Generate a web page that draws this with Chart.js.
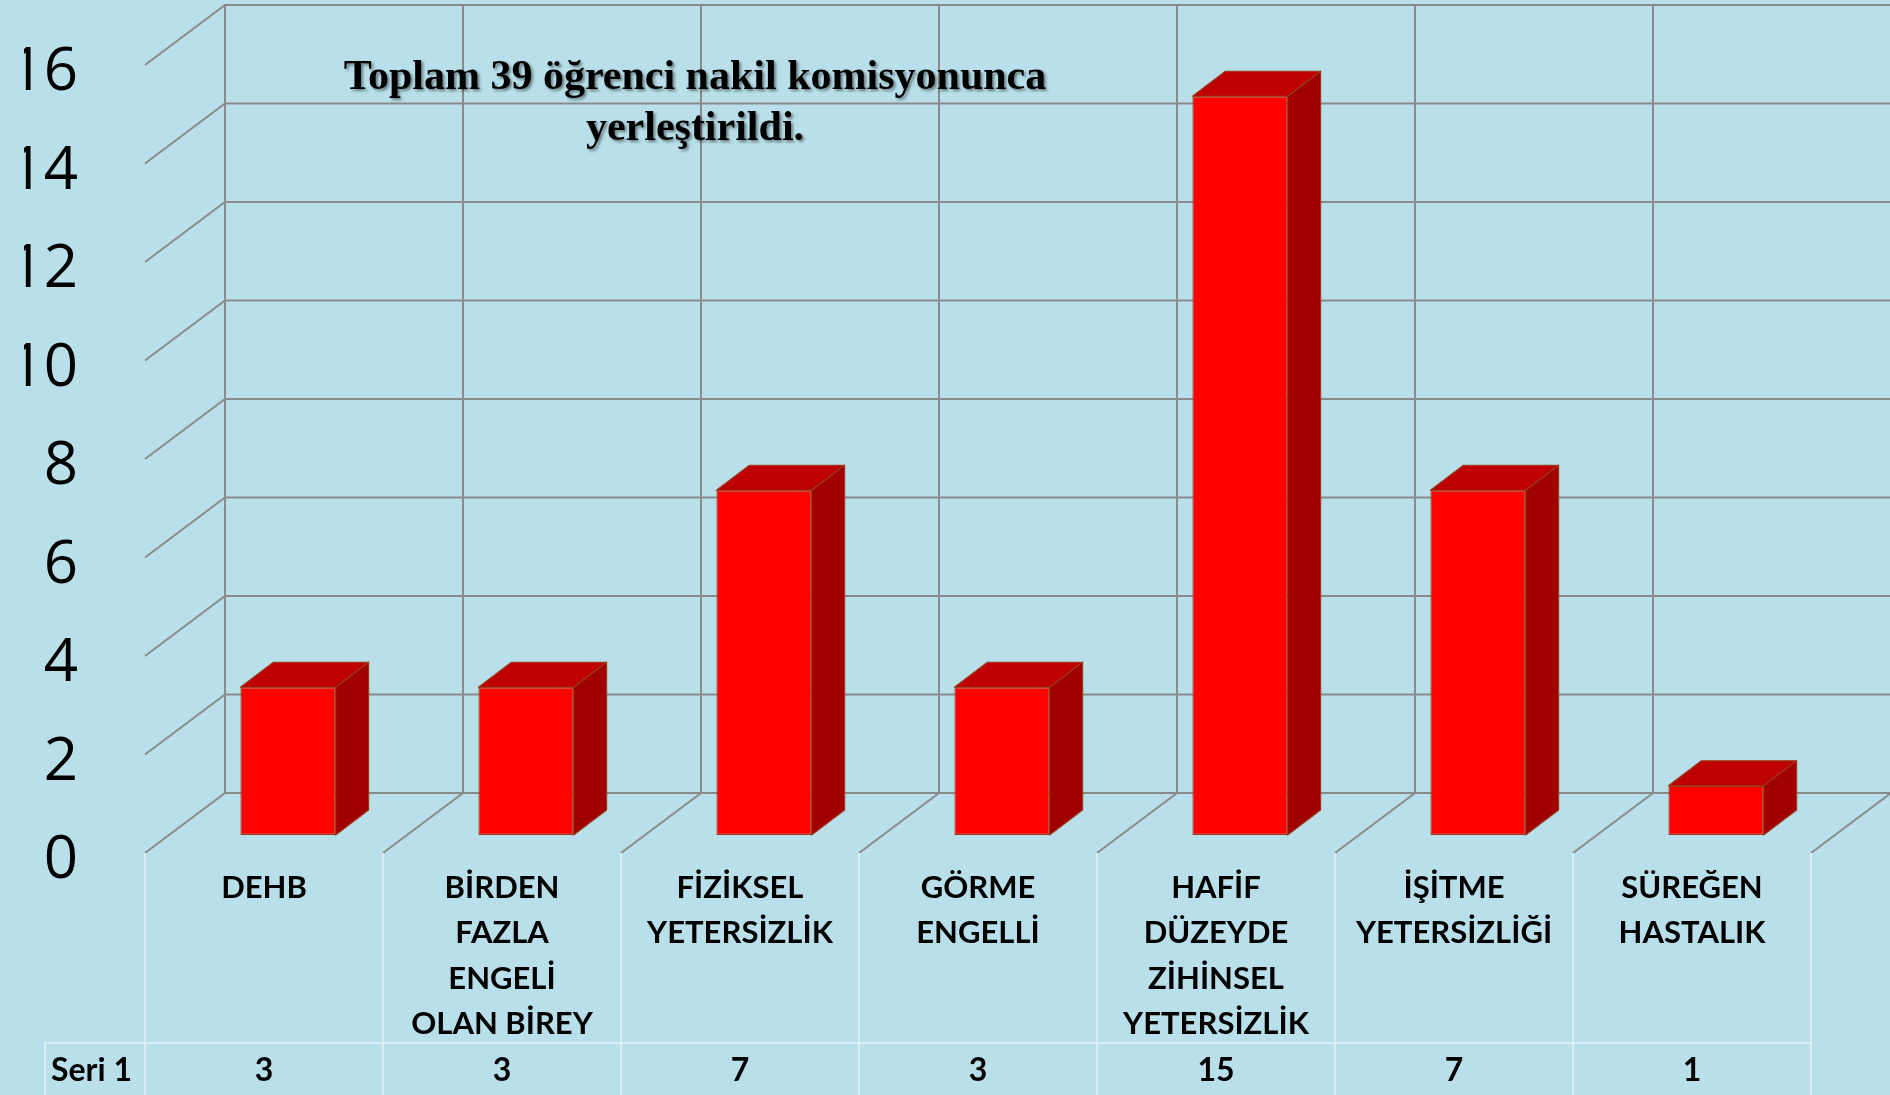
<!DOCTYPE html>
<html>
<head>
<meta charset="utf-8">
<script src="https://cdn.jsdelivr.net/npm/chart.js@4.4.1/dist/chart.umd.min.js"></script>
<style>
  html, body { margin: 0; padding: 0; background: #b9e0ea; }
  canvas { display: block; }
</style>
</head>
<body>
<canvas id="chart" width="1890" height="1095"></canvas>
<script>
const categories = [
  'DEHB',
  ['BİRDEN', 'FAZLA', 'ENGELİ', 'OLAN BİREY'],
  ['FİZİKSEL', 'YETERSİZLİK'],
  ['GÖRME', 'ENGELLİ'],
  ['HAFİF', 'DÜZEYDE', 'ZİHİNSEL', 'YETERSİZLİK'],
  ['İŞİTME', 'YETERSİZLİĞİ'],
  ['SÜREĞEN', 'HASTALIK']
];
const seriesName = 'Seri 1';
const series1 = [3, 3, 7, 3, 15, 7, 1];
const yTicks = [0, 2, 4, 6, 8, 10, 12, 14, 16];
const titleLines = ['Toplam 39 öğrenci nakil komisyonunca', 'yerleştirildi.'];

// offsets of the other depth planes, measured from the bar front plane
const FRONT = { dx: -24, dy: 18 };
const BACK = { dx: 56, dy: -42 };
const BAR_DEPTH = { dx: 33, dy: -25 };

const GRID_COLOR = '#8a8a8a';
const TABLE_LINE = '#dcedf2';

function boundaries(chart) {
  const x = chart.scales.x;
  const n = categories.length;
  const step = (x.getPixelForValue(n - 1) - x.getPixelForValue(0)) / (n - 1);
  const out = [];
  for (let k = 0; k <= n; k++) out.push(x.getPixelForValue(0) - step / 2 + k * step);
  return out;
}

const scene3d = {
  id: 'scene3d',
  beforeDatasetsDraw(chart) {
    const { ctx, scales: { y } } = chart;
    const a = chart.chartArea;
    const bx = boundaries(chart);
    const y0 = y.getPixelForValue(0);
    const yTop = y.getPixelForValue(16);
    ctx.save();
    ctx.strokeStyle = GRID_COLOR;
    ctx.lineWidth = 2;
    ctx.beginPath();
    yTicks.forEach(v => {
      const py = y.getPixelForValue(v);
      ctx.moveTo(a.left + FRONT.dx, py + FRONT.dy);
      ctx.lineTo(a.left + BACK.dx, py + BACK.dy);
      ctx.lineTo(chart.width + 5, py + BACK.dy);
    });
    bx.forEach(b => {
      ctx.moveTo(b + BACK.dx, yTop + BACK.dy);
      ctx.lineTo(b + BACK.dx, y0 + BACK.dy);
      ctx.lineTo(b + FRONT.dx, y0 + FRONT.dy);
    });
    ctx.stroke();
    ctx.restore();
  },
  afterDatasetsDraw(chart) {
    const { ctx } = chart;
    ctx.save();
    ctx.lineWidth = 1.2;
    ctx.strokeStyle = '#9a3a16';
    ctx.lineJoin = 'round';
    chart.getDatasetMeta(0).data.forEach(bar => {
      const x0 = bar.x - bar.width / 2, x1 = bar.x + bar.width / 2;
      const yt = bar.y, yb = bar.base;
      const dx = BAR_DEPTH.dx, dy = BAR_DEPTH.dy;
      // top face
      ctx.beginPath();
      ctx.moveTo(x0, yt); ctx.lineTo(x1, yt);
      ctx.lineTo(x1 + dx, yt + dy); ctx.lineTo(x0 + dx, yt + dy);
      ctx.closePath();
      ctx.fillStyle = '#bf0000';
      ctx.fill(); ctx.stroke();
      // side face
      ctx.beginPath();
      ctx.moveTo(x1, yt); ctx.lineTo(x1 + dx, yt + dy);
      ctx.lineTo(x1 + dx, yb + dy); ctx.lineTo(x1, yb);
      ctx.closePath();
      ctx.fillStyle = '#a00000';
      ctx.fill(); ctx.stroke();
    });
    ctx.restore();
  },
  afterDraw(chart) {
    const { ctx, scales: { x, y } } = chart;
    const bx = boundaries(chart).map(b => b + FRONT.dx);
    const yFloor = y.getPixelForValue(0) + FRONT.dy;
    const rowTop = 1043;
    const rowMid = 1071;
    ctx.save();
    // data table lines
    ctx.strokeStyle = TABLE_LINE;
    ctx.lineWidth = 2;
    ctx.beginPath();
    bx.forEach(b => { ctx.moveTo(b, yFloor); ctx.lineTo(b, chart.height); });
    ctx.moveTo(45, chart.height); ctx.lineTo(45, rowTop); ctx.lineTo(bx[bx.length - 1], rowTop);
    ctx.stroke();
    // data table texts
    ctx.fillStyle = '#000';
    ctx.font = 'bold 32px Lato';
    ctx.textBaseline = 'middle';
    ctx.textAlign = 'left';
    ctx.fillText(seriesName, 51, rowMid);
    ctx.textAlign = 'center';
    series1.forEach((v, i) => ctx.fillText(String(v), x.getPixelForValue(i) + FRONT.dx, rowMid));
    // title
    ctx.font = 'bold 42px "Liberation Serif"';
    ctx.shadowColor = 'rgba(0,0,0,0.45)';
    ctx.shadowOffsetX = 2;
    ctx.shadowOffsetY = 2;
    ctx.shadowBlur = 3;
    ctx.fillText(titleLines[0], 695, 78);
    ctx.fillText(titleLines[1], 695, 129);
    ctx.restore();
  }
};

new Chart(document.getElementById('chart'), {
  type: 'bar',
  data: {
    labels: categories,
    datasets: [{
      label: seriesName,
      data: series1,
      backgroundColor: '#ff0000',
      borderColor: '#9a3a16',
      borderWidth: 1.2,
      borderSkipped: false,
      categoryPercentage: 1,
      barPercentage: 0.4
    }]
  },
  options: {
    responsive: false,
    animation: false,
    devicePixelRatio: 1,
    layout: { padding: { left: 24, right: 55, top: 47, bottom: 0 } },
    plugins: {
      legend: { display: false },
      tooltip: { enabled: false }
    },
    scales: {
      x: {
        grid: { display: false, drawTicks: false },
        border: { display: false },
        ticks: {
          color: '#000',
          font: { family: 'Lato', size: 31, weight: 'bold', lineHeight: 1.47 },
          padding: 30,
          labelOffset: FRONT.dx,
          maxRotation: 0,
          autoSkip: false
        },
        afterFit(s) { s.height = 260; s.paddingLeft = 0; s.paddingRight = 0; }
      },
      y: {
        min: 0,
        max: 16,
        grid: { display: false, drawTicks: false },
        border: { display: false },
        afterBuildTicks(s) { s.ticks = yTicks.map(v => ({ value: v })); },
        ticks: {
          color: '#000',
          font: { family: 'Open Sans', size: 60 },
          padding: 91,
          labelOffset: FRONT.dy + 8
        },
        afterFit(s) { s.width = 145; s.paddingTop = 0; s.paddingBottom = 0; }
      }
    }
  },
  plugins: [scene3d]
});
</script>
</body>
</html>
